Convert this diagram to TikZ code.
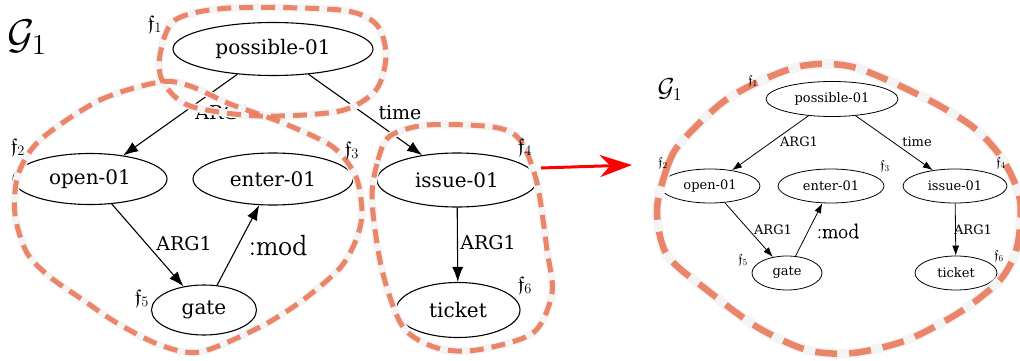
\documentclass[tikz,border=0pt]{standalone}
\usepackage{amssymb}
\usepackage{fontspec}
\setmainfont{DejaVu Serif}
\newfontfamily\lmfont[FakeBold=0.6]{Latin Modern Roman}
\usetikzlibrary{shapes.geometric,arrows.meta}
\definecolor{blobc}{RGB}{233,122,92}
\definecolor{haloc}{RGB}{244,244,244}
\tikzset{
  lnode/.style={draw, ellipse, line width=1.1pt, inner sep=0pt, font=\fontsize{20}{24}\selectfont},
  rnode/.style={draw, ellipse, line width=0.8pt, inner sep=0pt, font=\fontsize{13}{16}\selectfont},
  ledge/.style={line width=1.1pt, -{Latex[length=15pt,width=11pt]}},
  redge/.style={line width=0.8pt, -{Latex[length=10pt,width=7pt]}},
  llab/.style={inner sep=0pt, font=\fontsize{19}{23}\selectfont},
  rlab/.style={inner sep=0pt, font=\fontsize{13}{16}\selectfont},
  lmod/.style={inner sep=0pt, font=\fontsize{29}{34}\lmfont},
  lf/.style={inner sep=0pt, font=\fontsize{20}{24}\selectfont},
  rf/.style={inner sep=0pt, font=\fontsize{13}{15}\selectfont},
  halo/.style={line width=8pt, haloc},
  blobL/.style={line width=5pt, blobc, opacity=0.9, dash pattern=on 14pt off 8pt},
  blobR/.style={line width=6.5pt, blobc, opacity=0.9, dash pattern=on 22pt off 12pt},
}
\begin{document}
\begin{tikzpicture}[x=1pt,y=-1pt]
\useasboundingbox (0,0) rectangle (1020,361);
% ---------- left graph ----------
\node[lnode, minimum width=200pt, minimum height=53pt] (p) at (273,49) {possible-01};
\node[lnode, minimum width=154pt, minimum height=51pt] (o) at (90,179) {open-01};
\node[lnode, minimum width=160pt, minimum height=52pt] (e) at (273,179) {enter-01};
\node[lnode, minimum width=160pt, minimum height=54pt] (i) at (457,180) {issue-01};
\node[lnode, minimum width=105pt, minimum height=50pt] (g) at (204,310) {gate};
\node[lnode, minimum width=124pt, minimum height=55pt] (t) at (458,310) {ticket};
\draw[ledge] (p) -- (o);
\draw[ledge] (p) -- (i);
\draw[ledge] (o) -- (g);
\draw[ledge] (g) -- (e);
\draw[ledge] (i) -- (t);
\node[llab] (l1) at (223,113) {ARG1};
\node[llab] (l2) at (400,113) {time};
\node[llab] (l3) at (184,244) {ARG1};
\node[lmod] (l4) at (278,245) {:mod};
\node[llab] (l5) at (488,243) {ARG1};
% blobs left
\def\blobA{(160,55) (175,20) (230,8) (340,10) (376,24) (386,55) (376,90) (340,111) (260,116) (190,106) (163,82)}
\def\blobB{(40,140) (100,100) (160,82) (190,86) (230,104) (283,123) (333,147) (356,177) (362,213) (356,240) (340,268) (303,300) (260,327) (200,352) (160,345) (117,323) (83,300) (50,277) (27,253) (15,215) (18,175)}
\def\blobC{(372,200) (378,160) (390,136) (427,125) (493,127) (520,140) (537,183) (547,250) (552,293) (533,333) (477,350) (437,348) (403,327) (382,270)}
\draw[halo] plot[smooth cycle] coordinates {\blobA};
\draw[halo] plot[smooth cycle] coordinates {\blobB};
\draw[halo] plot[smooth cycle] coordinates {\blobC};
\draw[blobL] plot[smooth cycle] coordinates {\blobA};
\draw[blobL] plot[smooth cycle] coordinates {\blobB};
\draw[blobL] plot[smooth cycle] coordinates {\blobC};
\node[inner sep=0pt, font=\fontsize{20}{24}\selectfont] (G) at (27,37) {\scalebox{2.0}{$\mathcal{G}_1$}};
\node[lf] (f1) at (155,24) {$\mathfrak{f}_1$};
\node[lf] (f2) at (18,147) {$\mathfrak{f}_2$};
\node[lf] (f3) at (352,150) {$\mathfrak{f}_3$};
\node[lf] (f4) at (525,147) {$\mathfrak{f}_4$};
\node[lf] (f5) at (142,298) {$\mathfrak{f}_5$};
\node[lf] (f6) at (525,285) {$\mathfrak{f}_6$};
% ---------- arrow ----------
\coordinate (a1) at (541,168);
\coordinate (a2) at (632,165);
\draw[red, line width=3pt, -{Stealth[length=32pt,width=22pt,inset=10pt]}] (a1) -- (a2);
% ---------- right graph ----------
\node[rnode, minimum width=132pt, minimum height=35pt] (rp) at (832,99) {possible-01};
\node[rnode, minimum width=100pt, minimum height=34pt] (ro) at (710,186) {open-01};
\node[rnode, minimum width=106pt, minimum height=34pt] (re) at (831,186) {enter-01};
\node[rnode, minimum width=104pt, minimum height=34pt] (ri) at (955,186) {issue-01};
\node[rnode, minimum width=70pt, minimum height=34pt] (rg) at (787,273) {gate};
\node[rnode, minimum width=82pt, minimum height=34pt] (rt) at (956,273) {ticket};
\draw[redge] (rp) -- (ro);
\draw[redge] (rp) -- (ri);
\draw[redge] (ro) -- (rg);
\draw[redge] (rg) -- (re);
\draw[redge] (ri) -- (rt);
\node[rlab] (rl1) at (799,142) {ARG1};
\node[rlab] (rl2) at (917,142) {time};
\node[rlab] (rl3) at (773,230) {ARG1};
\node[inner sep=0pt, font=\fontsize{21}{25}\lmfont] (rl4) at (838,231) {:mod};
\node[rlab] (rl5) at (973,230) {ARG1};
\def\blobD{(657,210) (668,165) (683,140) (730,97) (797,67) (853,67) (923,97) (973,127) (1003,160) (1020,200) (1017,247) (1000,280) (960,312) (907,340) (853,353) (807,350) (757,327) (707,290) (667,255)}
\draw[halo, line width=10pt] plot[smooth cycle] coordinates {\blobD};
\draw[blobR] plot[smooth cycle] coordinates {\blobD};
\node[inner sep=0pt, font=\fontsize{20}{24}\selectfont] (rG) at (670,90) {\scalebox{1.25}{$\mathcal{G}_1$}};
\node[rf] (rf1) at (753,81) {$\mathfrak{f}_1$};
\node[rf] (rf2) at (663,163) {$\mathfrak{f}_2$};
\node[rf] (rf3) at (885,166) {$\mathfrak{f}_3$};
\node[rf] (rf4) at (1001,163) {$\mathfrak{f}_4$};
\node[rf] (rf5) at (743,260) {$\mathfrak{f}_5$};
\node[rf] (rf6) at (999,256) {$\mathfrak{f}_6$};
\end{tikzpicture}
\end{document}
